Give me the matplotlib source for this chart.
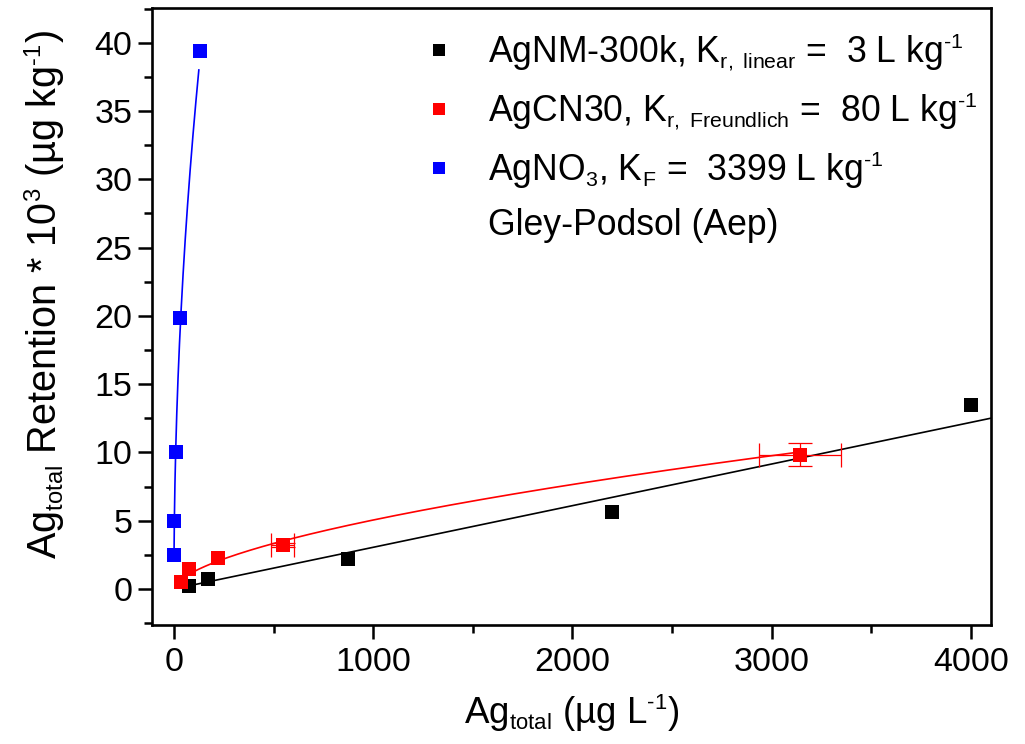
import numpy as np
import matplotlib
matplotlib.use("Agg")
import matplotlib.pyplot as plt
import matplotlib._mathtext as _mt
from matplotlib.lines import Line2D
from matplotlib.ticker import MultipleLocator

plt.rcParams["font.family"] = ["Liberation Sans", "DejaVu Sans"]
plt.rcParams["mathtext.fontset"] = "custom"
plt.rcParams["mathtext.rm"] = "Liberation Sans"
plt.rcParams["mathtext.it"] = "Liberation Sans:italic"
plt.rcParams["mathtext.default"] = "regular"
# slightly smaller sub/superscripts
_mt.SHRINK_FACTOR = 0.6

# AgNM-300k (linear sorption)
agnm_x = [75, 169, 873, 2200, 4000]
agnm_y = [0.22, 0.73, 2.2, 5.64, 13.5]
agnm_kr = 0.00305  # 10^3 µg/kg per µg/L

# AgCN30 (Freundlich sorption)
agcn_x = [34, 75, 222, 545, 3141]
agcn_y = [0.49, 1.46, 2.25, 3.22, 9.82]
agcn_xerr = [0, 0, 0, 58, 205]
agcn_yerr = [0, 0, 0, 0.15, 0.85]
agcn_k, agcn_n = 0.08, 0.6

# AgNO3 (Freundlich sorption)
agno3_x = [0.5, 2.0, 8.0, 32.0, 132.0]
agno3_y = [2.5, 5.0, 10.0, 19.85, 39.4]
agno3_k, agno3_n = 3.399, 0.5

fig = plt.figure(figsize=(10.25, 7.44), dpi=100)
ax = fig.add_axes([152 / 1025, 1 - 625 / 744, (991 - 152) / 1025, (625 - 8) / 744])

# fitted isotherms
xl = np.linspace(agnm_x[0], 4100, 200)
ax.plot(xl, agnm_kr * xl, color="black", lw=1.2, zorder=2)
xf = np.linspace(agcn_x[1], agcn_x[-1], 300)
ax.plot(xf, agcn_k * xf ** agcn_n, color="red", lw=1.2, zorder=2)
xb = np.linspace(agno3_x[0], 125, 300)
ax.plot(xb, agno3_k * xb ** agno3_n, color="blue", lw=1.2, zorder=2)

ms = 9.4
ax.plot(agnm_x, agnm_y, "s", color="black", ms=ms, mew=0, zorder=3)

# error bars only where a spread was measured
ex = np.array(agcn_xerr, dtype=float)
ey = np.array(agcn_yerr, dtype=float)
has_err = (ex > 0) | (ey > 0)
ax.errorbar(np.array(agcn_x)[has_err], np.array(agcn_y)[has_err],
            xerr=ex[has_err], yerr=ey[has_err], fmt="none",
            ecolor="red", elinewidth=0.9, capsize=8.5, capthick=0.9, zorder=3)
ax.plot(agcn_x, agcn_y, "s", color="red", ms=ms, mew=0, zorder=4)
ax.plot(agno3_x, agno3_y, "s", color="blue", ms=ms, mew=0, zorder=3)

ax.set_xlim(-110, 4100)
ax.set_ylim(-2.64, 42.54)
ax.xaxis.set_major_locator(MultipleLocator(1000))
ax.xaxis.set_minor_locator(MultipleLocator(500))
ax.yaxis.set_major_locator(MultipleLocator(5))
ax.yaxis.set_minor_locator(MultipleLocator(2.5))
ax.tick_params(which="major", direction="out", length=10, width=1.8, labelsize=24.5)
ax.tick_params(which="minor", direction="out", length=6, width=1.8)
ax.tick_params(axis="x", which="major", pad=6)
ax.tick_params(axis="y", which="major", pad=4)
for sp in ax.spines.values():
    sp.set_linewidth(1.9)

ax.set_xlabel("Ag$_{total}$ (µg L$^{\\text{-1}}$)", fontsize=26.5, labelpad=10)
ax.set_ylabel("Ag$_{total}$ Retention * 10$^{3}$ (µg kg$^{\\text{-1}}$)", fontsize=28.5)
ax.yaxis.set_label_coords(-0.1013, 0.535)

handles = [
    Line2D([], [], ls="none", marker="s", color="black", ms=8, mew=0),
    Line2D([], [], ls="none", marker="s", color="red", ms=8, mew=0),
    Line2D([], [], ls="none", marker="s", color="blue", ms=8, mew=0),
    Line2D([], [], ls="none", marker=None),
]
labels = [
    "AgNM-300k, K$_{r,\\ linear}$ =  3 L kg$^{\\text{-1}}$",
    "AgCN30, K$_{r,\\ Freundlich}$ =  80 L kg$^{\\text{-1}}$",
    "AgNO$_{3}$, K$_{F}$ =  3399 L kg$^{\\text{-1}}$",
    "Gley-Podsol (Aep)",
]
ax.legend(handles, labels, loc="upper left", bbox_to_anchor=(0.3035, 0.985), frameon=False,
          fontsize=25.7, handlelength=1.0, handletextpad=0.87, labelspacing=0.48,
          borderaxespad=0.0, borderpad=0.4)

fig.savefig("out.png", dpi=100)
